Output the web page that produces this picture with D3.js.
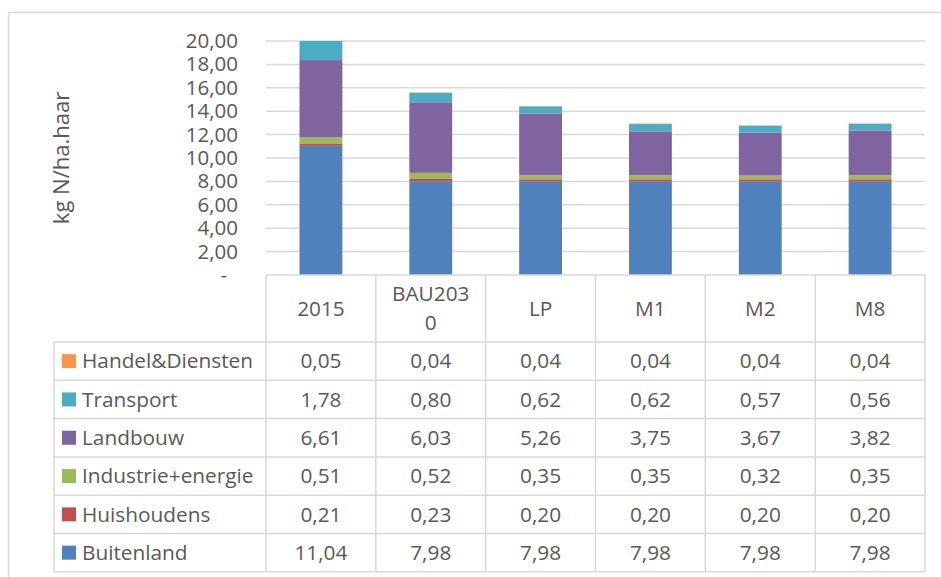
<!DOCTYPE html>
<html>
<head>
<meta charset="utf-8">
<script src="https://cdn.jsdelivr.net/npm/d3@7"></script>
<style>
  body { margin: 0; background: #fff; }
  text { font-family: "Open Sans", "Noto Sans", sans-serif; fill: #595959; }
</style>
</head>
<body>
<div id="chart"></div>
<script>
// categories (columns)
var categories = ["2015", "BAU2030", "LP", "M1", "M2", "M8"];

// series, bottom of the stack first
var seriesNames = ["Buitenland", "Huishoudens", "Industrie+energie", "Landbouw", "Transport", "Handel&Diensten"];
var seriesColors = ["#4F81BD", "#C0504D", "#9BBB59", "#8064A2", "#4BACC6", "#F79646"];

var buitenland = [11.04, 7.98, 7.98, 7.98, 7.98, 7.98];
var huishoudens = [0.21, 0.23, 0.20, 0.20, 0.20, 0.20];
var industrie = [0.51, 0.52, 0.35, 0.35, 0.32, 0.35];
var landbouw = [6.61, 6.03, 5.26, 3.75, 3.67, 3.82];
var transport = [1.78, 0.80, 0.62, 0.62, 0.57, 0.56];
var handel = [0.05, 0.04, 0.04, 0.04, 0.04, 0.04];

var yTicks = [0, 2, 4, 6, 8, 10, 12, 14, 16, 18, 20];

var seriesValues = [buitenland, huishoudens, industrie, landbouw, transport, handel];

var svgWidth = 941;
var svgHeight = 577;

var plot = { left: 266, right: 925, top: 41, bottom: 275 };
var legendLeft = 54;
var headerH = 67;
var rowH = 38.3;
var gridColor = "#d9d9d9";
var tableFont = "20.8px";

var svg = d3.select("#chart")
  .append("svg")
  .attr("width", svgWidth)
  .attr("height", svgHeight);

// outer chart border (runs off the right and bottom)
svg.append("rect")
  .attr("x", 8.5)
  .attr("y", 12.5)
  .attr("width", 1000)
  .attr("height", 700)
  .attr("fill", "none")
  .attr("stroke", gridColor)
  .attr("stroke-width", 1.5);

var locale = d3.formatLocale({ decimal: ",", thousands: ".", grouping: [3], currency: ["", ""] });
var fmt = locale.format(".2f");

var x = d3.scaleBand()
  .domain(categories)
  .range([plot.left, plot.right])
  .paddingInner(0.61)
  .paddingOuter(0.305);

var xCell = d3.scaleBand()
  .domain(categories)
  .range([plot.left, plot.right]);

var y = d3.scaleLinear()
  .domain([0, 20])
  .range([plot.bottom, plot.top]);

// gridlines
svg.append("g")
  .selectAll("line")
  .data(yTicks.filter(d => d > 0))
  .enter()
  .append("line")
  .attr("x1", plot.left)
  .attr("x2", plot.right)
  .attr("y1", d => y(d))
  .attr("y2", d => y(d))
  .attr("stroke", gridColor)
  .attr("stroke-width", 1.5);

// y axis labels
var yAxis = d3.axisLeft(y)
  .tickValues(yTicks)
  .tickSize(0)
  .tickPadding(28)
  .tickFormat(d => d === 0 ? "-" : fmt(d));

var yAxisG = svg.append("g")
  .attr("transform", `translate(${plot.left}, 0)`)
  .call(yAxis);
yAxisG.select(".domain").remove();
yAxisG.selectAll("text")
  .style("font-size", "20.5px")
  .attr("fill", "#595959")
  .attr("font-family", null);
yAxisG.selectAll("text")
  .filter(d => d === 0)
  .attr("dx", -11);

// y axis title
svg.append("text")
  .attr("transform", `translate(69, ${(plot.top + plot.bottom) / 2}) rotate(-90)`)
  .attr("text-anchor", "middle")
  .style("font-size", "22px")
  .text("kg N/ha.haar");

// stacked bars, clipped to the plot area
svg.append("clipPath")
  .attr("id", "plotClip")
  .append("rect")
  .attr("x", plot.left)
  .attr("y", plot.top)
  .attr("width", plot.right - plot.left)
  .attr("height", plot.bottom - plot.top);

var table = categories.map(function(c, i) {
  var row = { cat: c };
  seriesNames.forEach(function(s, j) { row[s] = seriesValues[j][i]; });
  return row;
});

var stack = d3.stack().keys(seriesNames)(table);

var barsG = svg.append("g").attr("clip-path", "url(#plotClip)");
barsG.selectAll("g")
  .data(stack)
  .enter()
  .append("g")
  .attr("fill", (d, i) => seriesColors[i])
  .selectAll("rect")
  .data(d => d)
  .enter()
  .append("rect")
  .attr("x", d => x(d.data.cat))
  .attr("width", x.bandwidth())
  .attr("y", d => y(d[1]))
  .attr("height", d => y(d[0]) - y(d[1]));

// data table
var tableG = svg.append("g");
var tableTop = plot.bottom;
var rowsTop = tableTop + headerH;
var tableBottom = rowsTop + rowH * seriesNames.length;

// horizontal lines of the table
tableG.append("line")
  .attr("x1", plot.left).attr("x2", plot.right)
  .attr("y1", tableTop).attr("y2", tableTop);
d3.range(seriesNames.length + 1).forEach(function(i) {
  tableG.append("line")
    .attr("x1", legendLeft).attr("x2", plot.right)
    .attr("y1", rowsTop + i * rowH).attr("y2", rowsTop + i * rowH);
});
// vertical lines
tableG.append("line")
  .attr("x1", legendLeft).attr("x2", legendLeft)
  .attr("y1", rowsTop).attr("y2", tableBottom);
categories.forEach(function(c) {
  tableG.append("line")
    .attr("x1", xCell(c)).attr("x2", xCell(c))
    .attr("y1", tableTop).attr("y2", tableBottom);
});
tableG.append("line")
  .attr("x1", plot.right).attr("x2", plot.right)
  .attr("y1", tableTop).attr("y2", tableBottom);
tableG.selectAll("line")
  .attr("stroke", gridColor)
  .attr("stroke-width", 1.5);

// header labels, wrapped to the cell width
categories.forEach(function(c) {
  var cx = xCell(c) + xCell.bandwidth() / 2;
  var t = tableG.append("text")
    .attr("x", cx)
    .attr("text-anchor", "middle")
    .style("font-size", tableFont);
  var lines = [];
  var cur = "";
  var probe = tableG.append("text").style("font-size", tableFont);
  c.split("").forEach(function(ch) {
    probe.text(cur + ch);
    if (probe.node().getComputedTextLength() > xCell.bandwidth() - 24 && cur.length) {
      lines.push(cur);
      cur = ch;
    } else {
      cur += ch;
    }
  });
  lines.push(cur);
  probe.remove();
  var lh = 29;
  var y0 = tableTop + headerH / 2 - (lines.length - 1) * lh / 2;
  lines.forEach(function(l, i) {
    t.append("tspan")
      .attr("x", cx)
      .attr("y", y0 + i * lh)
      .attr("dy", "0.35em")
      .text(l);
  });
});

// rows: legend key + values (top row is the top of the stack)
var rowOrder = seriesNames.map((s, i) => i).reverse();
rowOrder.forEach(function(si, r) {
  var cy = rowsTop + r * rowH + rowH / 2;
  tableG.append("rect")
    .attr("x", 62)
    .attr("y", cy - 7)
    .attr("width", 14)
    .attr("height", 14)
    .attr("fill", seriesColors[si]);
  tableG.append("text")
    .attr("x", 82)
    .attr("y", cy)
    .attr("dy", "0.35em")
    .style("font-size", tableFont)
    .text(seriesNames[si]);
  categories.forEach(function(c, ci) {
    tableG.append("text")
      .attr("x", xCell(c) + xCell.bandwidth() / 2)
      .attr("y", cy)
      .attr("dy", "0.35em")
      .attr("text-anchor", "middle")
      .style("font-size", tableFont)
      .text(fmt(seriesValues[si][ci]));
  });
});
</script>
</body>
</html>
